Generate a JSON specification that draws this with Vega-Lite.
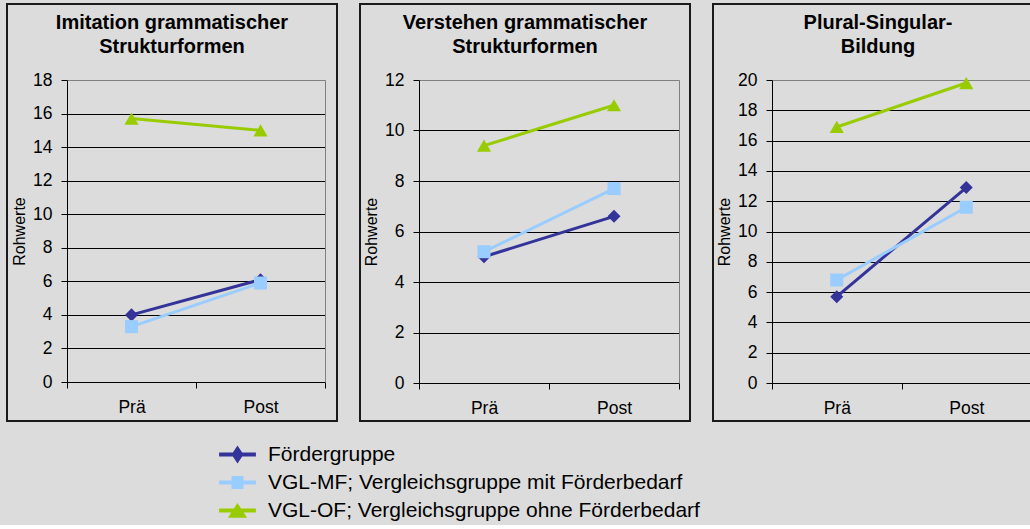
{
  "$schema": "https://vega.github.io/schema/vega-lite/v6.json",
  "background": "#dcdcdc",
  "padding": {"left": 6, "top": 3, "right": 0, "bottom": 4},
  "datasets": {
    "werte": [
      {"test": "Imitation", "zeit": "Prä", "gruppe": "Fördergruppe", "wert": 4.0},
      {"test": "Imitation", "zeit": "Post", "gruppe": "Fördergruppe", "wert": 6.1},
      {"test": "Imitation", "zeit": "Prä", "gruppe": "VGL-MF; Vergleichsgruppe mit Förderbedarf", "wert": 3.3},
      {"test": "Imitation", "zeit": "Post", "gruppe": "VGL-MF; Vergleichsgruppe mit Förderbedarf", "wert": 5.9},
      {"test": "Imitation", "zeit": "Prä", "gruppe": "VGL-OF; Vergleichsgruppe ohne Förderbedarf", "wert": 15.7},
      {"test": "Imitation", "zeit": "Post", "gruppe": "VGL-OF; Vergleichsgruppe ohne Förderbedarf", "wert": 15.0},
      {"test": "Verstehen", "zeit": "Prä", "gruppe": "Fördergruppe", "wert": 5.0},
      {"test": "Verstehen", "zeit": "Post", "gruppe": "Fördergruppe", "wert": 6.6},
      {"test": "Verstehen", "zeit": "Prä", "gruppe": "VGL-MF; Vergleichsgruppe mit Förderbedarf", "wert": 5.2},
      {"test": "Verstehen", "zeit": "Post", "gruppe": "VGL-MF; Vergleichsgruppe mit Förderbedarf", "wert": 7.7},
      {"test": "Verstehen", "zeit": "Prä", "gruppe": "VGL-OF; Vergleichsgruppe ohne Förderbedarf", "wert": 9.4},
      {"test": "Verstehen", "zeit": "Post", "gruppe": "VGL-OF; Vergleichsgruppe ohne Förderbedarf", "wert": 11.0},
      {"test": "Plural", "zeit": "Prä", "gruppe": "Fördergruppe", "wert": 5.7},
      {"test": "Plural", "zeit": "Post", "gruppe": "Fördergruppe", "wert": 12.9},
      {"test": "Plural", "zeit": "Prä", "gruppe": "VGL-MF; Vergleichsgruppe mit Förderbedarf", "wert": 6.8},
      {"test": "Plural", "zeit": "Post", "gruppe": "VGL-MF; Vergleichsgruppe mit Förderbedarf", "wert": 11.6},
      {"test": "Plural", "zeit": "Prä", "gruppe": "VGL-OF; Vergleichsgruppe ohne Förderbedarf", "wert": 16.9},
      {"test": "Plural", "zeit": "Post", "gruppe": "VGL-OF; Vergleichsgruppe ohne Förderbedarf", "wert": 19.8}
    ]
  },
  "data": {"name": "werte"},
  "hconcat": [
    {
      "width": 330, "height": 417,
      "title": {"text": ["Imitation grammatischer", "Strukturformen"]},
      "transform": [{"filter": "datum.test === 'Imitation'"}],
      "encoding": {
        "x": {"field": "zeit", "type": "nominal", "sort": ["Prä", "Post"], "title": null,
          "scale": {"type": "band", "range": [60, 318], "paddingInner": 0, "paddingOuter": 0},
          "axis": {"orient": "bottom", "offset": -39, "tickBand": "extent", "labelAngle": 0}},
        "color": {"field": "gruppe", "type": "nominal", "title": null,
          "scale": {"domain": ["Fördergruppe", "VGL-MF; Vergleichsgruppe mit Förderbedarf", "VGL-OF; Vergleichsgruppe ohne Förderbedarf"], "range": ["#333399", "#99ccff", "#99cc00"]},
          "legend": {"encode": {"symbols": {"update": {
            "shape": {"signal": "datum.value === 'Fördergruppe' ? 'M-2.3,-0.25H2.3V0.25H-2.3Z M0,-1.12L0.75,0L0,1.12L-0.75,0Z' : (indexof(datum.value, 'VGL-MF') === 0 ? 'M-2.3,-0.25H2.3V0.25H-2.3Z M-0.75,-0.8H0.75V0.8H-0.75Z' : 'M-2.3,-0.25H2.3V0.25H-2.3Z M0,-0.95L1.2,0.9H-1.2Z')"},
            "fill": {"signal": "scale('color', datum.value)"},
            "stroke": {"value": "transparent"},
            "strokeWidth": {"value": 0},
            "opacity": {"value": 1},
            "size": {"value": 256}}}}}}
      },
      "layer": [
        {"mark": {"type": "line", "strokeWidth": 3},
         "encoding": {"y": {"field": "wert", "type": "quantitative", "title": "Rohwerte",
           "scale": {"domain": [0, 18], "range": [378, 76], "nice": false},
           "axis": {"orient": "left", "offset": -60, "values": [0, 2, 4, 6, 8, 10, 12, 14, 16, 18],
             "gridColor": {"condition": {"test": "datum.value === 18", "value": "#808080"}, "value": "#000000"}}}}},
        {"mark": {"type": "point", "filled": true, "opacity": 1},
         "encoding": {"y": {"field": "wert", "type": "quantitative",
           "scale": {"domain": [0, 18], "range": [378, 76], "nice": false},
           "axis": {"orient": "right", "offset": -12, "grid": false, "ticks": false, "labels": false, "title": null, "domainColor": "#808080"}},
           "shape": {"condition": [{"test": "datum.gruppe === 'Fördergruppe'", "value": "diamond"}, {"test": "indexof(datum.gruppe, 'VGL-MF') === 0", "value": "square"}], "value": "triangle-up"},
           "size": {"condition": {"test": "indexof(datum.gruppe, 'VGL-OF') === 0", "value": 200}, "value": 170}}}
      ],
      "resolve": {"scale": {"y": "independent"}, "axis": {"y": "independent"}}
    },
    {
      "width": 330, "height": 417,
      "title": {"text": ["Verstehen grammatischer", "Strukturformen"]},
      "transform": [{"filter": "datum.test === 'Verstehen'"}],
      "encoding": {
        "x": {"field": "zeit", "type": "nominal", "sort": ["Prä", "Post"], "title": null,
          "scale": {"type": "band", "range": [59, 319], "paddingInner": 0, "paddingOuter": 0},
          "axis": {"orient": "bottom", "offset": -38, "tickBand": "extent", "labelAngle": 0}},
        "color": {"field": "gruppe", "type": "nominal", "title": null,
          "scale": {"domain": ["Fördergruppe", "VGL-MF; Vergleichsgruppe mit Förderbedarf", "VGL-OF; Vergleichsgruppe ohne Förderbedarf"], "range": ["#333399", "#99ccff", "#99cc00"]},
          "legend": {"encode": {"symbols": {"update": {
            "shape": {"signal": "datum.value === 'Fördergruppe' ? 'M-2.3,-0.25H2.3V0.25H-2.3Z M0,-1.12L0.75,0L0,1.12L-0.75,0Z' : (indexof(datum.value, 'VGL-MF') === 0 ? 'M-2.3,-0.25H2.3V0.25H-2.3Z M-0.75,-0.8H0.75V0.8H-0.75Z' : 'M-2.3,-0.25H2.3V0.25H-2.3Z M0,-0.95L1.2,0.9H-1.2Z')"},
            "fill": {"signal": "scale('color', datum.value)"},
            "stroke": {"value": "transparent"},
            "strokeWidth": {"value": 0},
            "opacity": {"value": 1},
            "size": {"value": 256}}}}}}
      },
      "layer": [
        {"mark": {"type": "line", "strokeWidth": 3},
         "encoding": {"y": {"field": "wert", "type": "quantitative", "title": "Rohwerte",
           "scale": {"domain": [0, 12], "range": [379, 76], "nice": false},
           "axis": {"orient": "left", "offset": -59, "values": [0, 2, 4, 6, 8, 10, 12],
             "gridColor": {"condition": {"test": "datum.value === 12", "value": "#808080"}, "value": "#000000"}}}}},
        {"mark": {"type": "point", "filled": true, "opacity": 1},
         "encoding": {"y": {"field": "wert", "type": "quantitative",
           "scale": {"domain": [0, 12], "range": [379, 76], "nice": false},
           "axis": {"orient": "right", "offset": -11, "grid": false, "ticks": false, "labels": false, "title": null, "domainColor": "#808080"}},
           "shape": {"condition": [{"test": "datum.gruppe === 'Fördergruppe'", "value": "diamond"}, {"test": "indexof(datum.gruppe, 'VGL-MF') === 0", "value": "square"}], "value": "triangle-up"},
           "size": {"condition": {"test": "indexof(datum.gruppe, 'VGL-OF') === 0", "value": 200}, "value": 170}}}
      ],
      "resolve": {"scale": {"y": "independent"}, "axis": {"y": "independent"}}
    },
    {
      "width": 330, "height": 417,
      "title": {"text": ["Plural-Singular-", "Bildung"]},
      "transform": [{"filter": "datum.test === 'Plural'"}],
      "encoding": {
        "x": {"field": "zeit", "type": "nominal", "sort": ["Prä", "Post"], "title": null,
          "scale": {"type": "band", "range": [59, 318], "paddingInner": 0, "paddingOuter": 0},
          "axis": {"orient": "bottom", "offset": -38, "tickBand": "extent", "labelAngle": 0}},
        "color": {"field": "gruppe", "type": "nominal", "title": null,
          "scale": {"domain": ["Fördergruppe", "VGL-MF; Vergleichsgruppe mit Förderbedarf", "VGL-OF; Vergleichsgruppe ohne Förderbedarf"], "range": ["#333399", "#99ccff", "#99cc00"]},
          "legend": {"encode": {"symbols": {"update": {
            "shape": {"signal": "datum.value === 'Fördergruppe' ? 'M-2.3,-0.25H2.3V0.25H-2.3Z M0,-1.12L0.75,0L0,1.12L-0.75,0Z' : (indexof(datum.value, 'VGL-MF') === 0 ? 'M-2.3,-0.25H2.3V0.25H-2.3Z M-0.75,-0.8H0.75V0.8H-0.75Z' : 'M-2.3,-0.25H2.3V0.25H-2.3Z M0,-0.95L1.2,0.9H-1.2Z')"},
            "fill": {"signal": "scale('color', datum.value)"},
            "stroke": {"value": "transparent"},
            "strokeWidth": {"value": 0},
            "opacity": {"value": 1},
            "size": {"value": 256}}}}}}
      },
      "layer": [
        {"mark": {"type": "line", "strokeWidth": 3},
         "encoding": {"y": {"field": "wert", "type": "quantitative", "title": "Rohwerte",
           "scale": {"domain": [0, 20], "range": [379, 76], "nice": false},
           "axis": {"orient": "left", "offset": -59, "values": [0, 2, 4, 6, 8, 10, 12, 14, 16, 18, 20],
             "gridColor": {"condition": {"test": "datum.value === 20", "value": "#808080"}, "value": "#000000"}}}}},
        {"mark": {"type": "point", "filled": true, "opacity": 1},
         "encoding": {"y": {"field": "wert", "type": "quantitative",
           "scale": {"domain": [0, 20], "range": [379, 76], "nice": false},
           "axis": {"orient": "right", "offset": -12, "grid": false, "ticks": false, "labels": false, "title": null, "domainColor": "#808080"}},
           "shape": {"condition": [{"test": "datum.gruppe === 'Fördergruppe'", "value": "diamond"}, {"test": "indexof(datum.gruppe, 'VGL-MF') === 0", "value": "square"}], "value": "triangle-up"},
           "size": {"condition": {"test": "indexof(datum.gruppe, 'VGL-OF') === 0", "value": 200}, "value": 170}}}
      ],
      "resolve": {"scale": {"y": "independent"}, "axis": {"y": "independent"}}
    }
  ],
  "config": {
    "font": "Liberation Sans",
    "view": {"stroke": "#1a1a1a", "strokeWidth": 2, "fill": null},
    "concat": {"spacing": 21},
    "title": {"font": "Liberation Sans", "fontSize": 20, "fontWeight": "bold", "color": "#000000", "anchor": "middle", "frame": "group", "offset": -53, "lineHeight": 24},
    "axis": {"domainColor": "#000000", "domainWidth": 1, "tickColor": "#000000", "tickSize": 6, "tickWidth": 1,
      "labelFont": "Liberation Sans", "labelFontSize": 17.5, "labelColor": "#000000", "labelPadding": 9,
      "titleFont": "Liberation Sans", "titleFontSize": 16, "titleFontWeight": "normal", "titleColor": "#000000", "titlePadding": 5,
      "gridWidth": 1, "gridOpacity": 1},
    "axisX": {"grid": false, "labelPadding": 10},
    "legend": {
      "orient": "none", "legendX": 220, "legendY": 440, "direction": "vertical", "padding": 0,
      "labelFont": "Liberation Sans", "labelFontSize": 21, "labelColor": "#000000", "labelLimit": 700,
      "labelOffset": 20, "rowPadding": 6, "symbolSize": 256, "symbolOpacity": 1
    }
  }
}
